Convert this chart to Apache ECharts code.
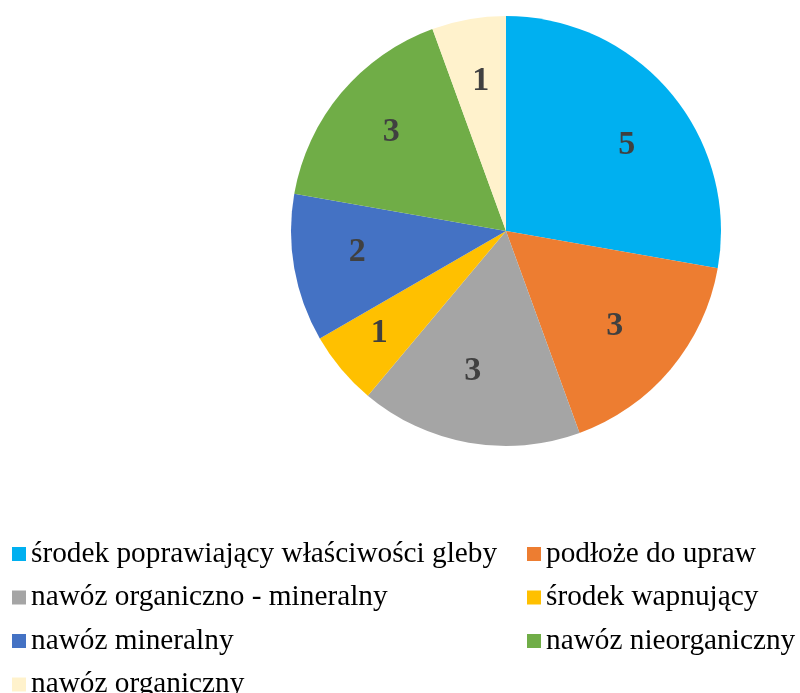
<!DOCTYPE html>
<html>
<head>
<meta charset="utf-8">
<script src="https://cdn.jsdelivr.net/npm/echarts@6/dist/echarts.min.js"></script>
<style>html,body{margin:0;padding:0;background:#fff;}#c{width:800px;height:693px;}</style>
</head>
<body>
<div id="c"></div>
<script>
const categories = ['środek poprawiający właściwości gleby','podłoże do upraw','nawóz organiczno - mineralny','środek wapnujący','nawóz mineralny','nawóz nieorganiczny','nawóz organiczny'];
const values = [5, 3, 3, 1, 2, 3, 1];
const colors = ['#00B0F0','#ED7D31','#A5A5A5','#FFC000','#4472C4','#70AD47','#FFF2CC'];
// style: per-slice label nudges (pixels)
const labelOffsets = [[5,11],[-7,-2],[-7,-8],[-11,5],[0,-5],[1,-2],[1,-1]];

const chart = echarts.init(document.getElementById('c'), null, {renderer:'canvas'});
const mainData = categories.map((n,i)=>({name:n, value:values[i], itemStyle:{color:colors[i]}}));
const labelData = categories.map((n,i)=>({name:n, value:values[i], label:{offset:labelOffsets[i]}}));
const legendText = {fontFamily:'Liberation Serif', fontSize:29.3, color:'#000', lineHeight:30};
chart.setOption({
  animation:false,
  color: colors,
  legend:[
    {orient:'vertical', left:12, top:539, height:200, padding:0, icon:'rect', itemWidth:14, itemHeight:14, itemGap:13.5,
     textStyle:legendText, data:[categories[0],categories[2],categories[4],categories[6]], selectedMode:false},
    {orient:'vertical', left:527, top:539, height:200, padding:0, icon:'rect', itemWidth:14, itemHeight:14, itemGap:13.5,
     textStyle:legendText, data:[categories[1],categories[3],categories[5]], selectedMode:false}
  ],
  series:[
    {type:'pie', center:[506,231], radius:[0,215], startAngle:90, clockwise:true,
     label:{show:false}, labelLine:{show:false}, itemStyle:{borderWidth:0}, data:mainData, silent:true},
    {type:'pie', center:[506,231], radius:[81,215], startAngle:90, clockwise:true,
     itemStyle:{color:'rgba(0,0,0,0)', borderWidth:0},
     label:{show:true, position:'inside', formatter:'{c}', fontFamily:'Liberation Serif', fontWeight:'bold', fontSize:34, color:'#404040'},
     labelLine:{show:false}, data:labelData, silent:true, legendHoverLink:false}
  ]
});
</script>
</body>
</html>
